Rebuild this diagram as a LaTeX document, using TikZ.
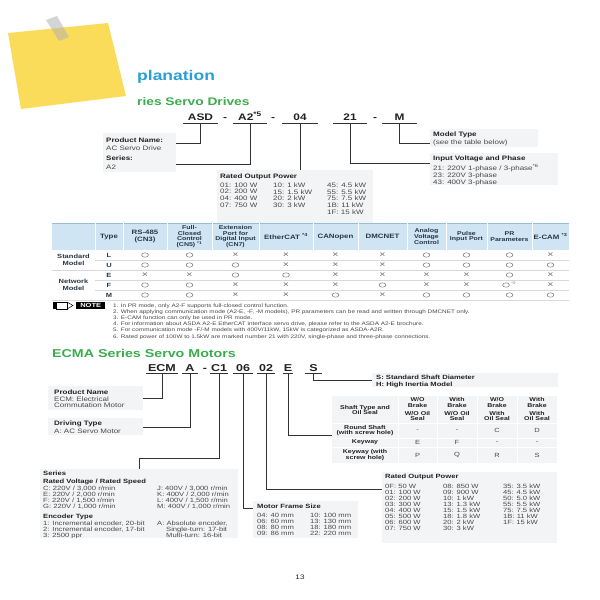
\documentclass[tikz,border=0pt]{standalone}
\usepackage{fontspec}
\setmainfont{Liberation Sans}[FakeStretch=1.25]
\usetikzlibrary{calc,shapes.geometric}
\definecolor{sticky}{RGB}{251,220,90}
\definecolor{headblue}{RGB}{40,160,215}
\definecolor{headgreen}{RGB}{60,172,78}
\definecolor{boxgray}{RGB}{243,244,246}
\definecolor{txtgray}{RGB}{72,72,72}
\definecolor{ttl}{RGB}{35,35,35}
\definecolor{linec}{RGB}{50,50,50}
\definecolor{thead}{RGB}{207,229,244}
\definecolor{theadline}{RGB}{150,190,215}
\definecolor{theadtxt}{RGB}{40,55,70}
\definecolor{symgray}{RGB}{110,110,110}
\definecolor{rulegray}{RGB}{214,218,222}
\newcommand\ttlb[1]{{\color{ttl}\bfseries #1}}
\tikzset{
  bx/.style={fill=boxgray, draw=none, anchor=north west, inner sep=0pt},
  tx/.style={anchor=north west, inner sep=0pt, align=left, text=txtgray, font=\fontsize{6.4}{6.7}\selectfont},
  code/.style={inner sep=0pt, anchor=south, text height=7pt, text depth=2pt, text=ttl, font=\bfseries\fontsize{9.5}{10}\selectfont},
  codeb/.style={code, text height=7.2pt, font=\bfseries\fontsize{10}{10}\selectfont},
  uline/.style={draw=linec, line width=0.7pt},
  conn/.style={draw=linec, line width=0.7pt},
  thd/.style={inner sep=0pt, align=center, text=theadtxt, font=\bfseries\fontsize{5.6}{5.8}\selectfont},
  thdl/.style={thd, font=\bfseries\fontsize{6.3}{6.5}\selectfont},
  typel/.style={inner sep=0pt, text=theadtxt, font=\bfseries\fontsize{6}{6}\selectfont},
  symo/.style={ellipse, draw=symgray, line width=0.45pt, minimum width=6.8pt, minimum height=4.4pt, inner sep=0pt, node contents={}},
  symq/.style={symo, xshift=-3.5pt},
  symx/.style={inner sep=0pt, text=symgray, font=\fontsize{8.5}{8.5}\selectfont, node contents={×}},
  rule/.style={draw=rulegray, line width=0.5pt},
  shd/.style={inner sep=0pt, align=center, text=ttl, font=\bfseries\fontsize{5.6}{5.8}\selectfont},
  sval/.style={inner sep=0pt, text=txtgray, font=\fontsize{6}{6}\selectfont},
}
\begin{document}
\begin{tikzpicture}[x=1pt,y=-1pt]
\useasboundingbox[fill=white] (0,0) rectangle (600,600);

% sticky note
\fill[sticky] (8,33) -- (108,23) -- (126,96) -- (21,109) -- cycle;
\fill[gray!60, opacity=0.55] (46,20) -- (57,16) -- (69,37) -- (59,41) -- cycle;

% headings
\node[anchor=base west, inner sep=0pt, text=headblue, font=\bfseries\fontsize{14}{14}\selectfont] (h1) at (137,80) {planation};
\node[anchor=base west, inner sep=0pt, text=headgreen, font=\bfseries\fontsize{11}{11}\selectfont] (h2) at (137,105) {ries Servo Drives};

% code row 1
\node[code, minimum width=35] (asd) at (200.5,123) {ASD};
\node[code] (d1) at (225,123) {-};
\node[code, minimum width=34] (a2) at (250,123) {A2\textsuperscript{*5}};
\node[code] (d2) at (273,123) {-};
\node[code, minimum width=35] (c04) at (300,123) {04};
\node[code, minimum width=34] (c21) at (350,123) {21};
\node[code] (d3) at (375,123) {-};
\node[code, minimum width=35] (cm) at (399.5,123) {M};
\foreach \n in {asd,a2,c04,c21,cm} \draw[uline] (\n.south west) -- (\n.south east);

% boxes row 1
\node[bx, minimum width=73, minimum height=39] (pbox) at (103,133) {};
\node[tx, font=\fontsize{6.4}{8}\selectfont] (pbt1) at (106,137.6) {\ttlb{Product Name:}\\AC Servo Drive};
\node[tx, font=\fontsize{6.4}{9}\selectfont] (pbt2) at (106,155.6) {\ttlb{Series:}\\A2};

\node[bx, minimum width=156, minimum height=57] (rop1) at (217,170) {};
\node[tx] (rop1t) at (220,173.6) {\ttlb{Rated Output Power}};
\node[tx] (rop1a) at (220,182.6) {01: 100 W\\02: 200 W\\04: 400 W\\07: 750 W};
\node[tx] (rop1b) at (273,182.6) {10: 1 kW\\15: 1.5 kW\\20: 2 kW\\30: 3 kW};
\node[tx] (rop1c) at (327,182.6) {45: 4.5 kW\\55: 5.5 kW\\75: 7.5 kW\\1B: 11 kW\\1F: 15 kW};

\node[bx, minimum width=128, minimum height=32] (ivbox) at (430,153) {};
\node[tx] (ivt) at (433,155.6) {\ttlb{Input Voltage and Phase}};
\node[tx, font=\fontsize{6.4}{7}\selectfont] (ivl) at (433,164.6) {21: 220V 1-phase / 3-phase\textsuperscript{*6}\\23: 220V 3-phase\\43: 400V 3-phase};

\node[bx, minimum width=108, minimum height=18] (mtbox) at (430,129) {};
\node[tx, font=\fontsize{6.4}{8}\selectfont] (mtt) at (433,131.6) {\ttlb{Model Type}\\(see the table below)};

% connectors row 1
\draw[conn] (asd.south) |- ($(pbox.north east)+(0,10)$);
\draw[conn] (a2.south) |- ($(pbox.north east)+(0,31)$);
\draw[conn] (c04.south) -- (c04.south |- rop1.north);
\draw[conn] (c21.south) |- ($(ivbox.north west)+(0,10)$);
\draw[conn] (cm.south) |- ($(mtbox.north west)+(0,14)$);

% table 1
\fill[thead] (52,223) rectangle (569,250);
\draw[theadline, line width=0.6pt] (52,223) -- (569,223);
\foreach \x in {95,123,167,212,259,313,358,407,446,487,532} \draw[white, line width=0.8pt] (\x,223) -- (\x,250);
\node[thdl] (hd1) at (109,236.5) {Type};
\node[thdl] (hd2) at (145,236.5) {RS-485\\(CN3)};
\node[thd] (hd3) at (189.5,236.5) {Full-\\Closed\\Control\\(CN5) \textsuperscript{*1}};
\node[thd] (hd4) at (235.5,236.5) {Extension\\Port for\\Digital Input\\(CN7)};
\node[thdl] (hd5) at (286,236.5) {EtherCAT \textsuperscript{*4}};
\node[thdl] (hd6) at (335.5,236.5) {CANopen};
\node[thdl] (hd7) at (382.5,236.5) {DMCNET};
\node[thd] (hd8) at (426.5,236.5) {Analog\\Voltage\\Control};
\node[thd] (hd9) at (466.5,236.5) {Pulse\\Input Port};
\node[thd] (hd10) at (509.5,236.5) {PR\\Parameters};
\node[thdl] (hd11) at (550.5,236.5) {E-CAM \textsuperscript{*3}};

\foreach \y in {260,280,290} \draw[rule] (95,\y) -- (569,\y);
\foreach \y in {270,300} \draw[rule] (52,\y) -- (569,\y);

\node[thd, font=\bfseries\fontsize{6}{6.6}\selectfont] (gstd) at (73.5,260) {Standard\\Model};
\node[thd, font=\bfseries\fontsize{6}{6.6}\selectfont] (gnet) at (73.5,285) {Network\\Model};

\foreach \ry/\tl/\syms [count=\ri] in {255/L/{o,o,x,x,x,x,o,o,o,x}, 265/U/{o,o,o,x,x,x,o,o,o,o}, 275/E/{x,x,o,o,x,x,x,x,o,x}, 285/F/{o,o,x,x,x,o,x,x,q,x}, 295/M/{o,o,x,x,o,x,o,o,o,o}}{
  \node[typel] (t\ri) at (109,\ry) {\tl};
  \foreach \s [count=\ci] in \syms {
    \pgfmathsetmacro\xx{{145,189.5,235.5,286,335.5,382.5,426.5,466.5,509.5,550.5}[\ci-1]}
    \node[sym\s, name=s\ri-\ci, at={(\xx,\ry)}];
  }
}
\node[inner sep=0pt, text=symgray, font=\fontsize{3.6}{3.6}\selectfont] (s2note) at (513.5,283.3) {*2};

% NOTE
\fill[black] (53,302) rectangle (56,309);
\draw[black, line width=0.5pt] (56,302) rectangle (67,309);
\draw[black, line width=0.5pt] (67,302) -- (73,305.5) -- (67,309);
\node[fill=black, text=white, font=\bfseries\fontsize{6}{6}\selectfont, inner sep=0pt, minimum width=29, minimum height=7, anchor=north west] (notebox) at (76,302) {NOTE};
\node[tx, font=\fontsize{5.1}{6.2}\selectfont] (notes) at (113,303.1) {1. In PR mode, only A2-F supports full-closed control function.\\
2. When applying communication mode (A2-E, -F, -M models), PR parameters can be read and written through DMCNET only.\\
3. E-CAM function can only be used in PR mode.\\
4. For information about ASDA A2-E EtherCAT interface servo drive, please refer to the ASDA A2-E brochure.\\
5. For communication mode -F/-M models with 400V/11kW, 15kW is categorized as ASDA-A2R.\\
6. Rated power of 100W to 1.5kW are marked number 21 with 220V, single-phase and three-phase connections.};

% ECMA heading
\node[anchor=base west, inner sep=0pt, text=headgreen, font=\bfseries\fontsize{11.4}{11.4}\selectfont] (h3) at (52,357) {ECMA Series Servo Motors};

% code row 2
\node[codeb, minimum width=31] (ecm) at (162,373.5) {ECM};
\node[codeb, minimum width=16] (ca) at (190,373.5) {A};
\node[codeb] (d4) at (205,373.5) {-};
\node[codeb, minimum width=18] (cc1) at (219,373.5) {C1};
\node[codeb, minimum width=20] (c06) at (243,373.5) {06};
\node[codeb, minimum width=18] (c02) at (266,373.5) {02};
\node[codeb, minimum width=10] (ce) at (288,373.5) {E};
\node[codeb, minimum width=17] (cs) at (313.5,373.5) {S};
\foreach \n in {ecm,ca,cc1,c06,c02,ce,cs} \draw[uline] (\n.south west) -- (\n.south east);

% boxes row 2
\node[bx, minimum width=95, minimum height=24] (pn2) at (48,386) {};
\node[tx, font=\fontsize{6.4}{6.6}\selectfont] (pn2t) at (54,389.6) {\ttlb{Product Name}\\ECM: Electrical\\Commutation Motor};
\node[bx, minimum width=95, minimum height=17] (dt) at (48,418) {};
\node[tx, font=\fontsize{6.4}{8}\selectfont] (dtt) at (54,420.6) {\ttlb{Driving Type}\\A: AC Servo Motor};

\node[bx, minimum width=198, minimum height=69] (ser) at (40,469) {};
\node[tx, font=\fontsize{6.1}{8}\selectfont] (sert) at (43,470.7) {\ttlb{Series}\\\ttlb{Rated Voltage / Rated Speed}};
\node[tx, font=\fontsize{6.1}{6}\selectfont] (serA) at (43,485.7) {C: 220V / 3,000 r/min\\E: 220V / 2,000 r/min\\F: 220V / 1,500 r/min\\G: 220V / 1,000 r/min};
\node[tx, font=\fontsize{6.1}{6}\selectfont] (serB) at (157,485.7) {J: 400V / 3,000 r/min\\K: 400V / 2,000 r/min\\L: 400V / 1,500 r/min\\M: 400V / 1,000 r/min};
\node[tx, font=\fontsize{6.1}{6}\selectfont] (enct) at (43,513.7) {\ttlb{Encoder Type}};
\node[tx, font=\fontsize{6.1}{6}\selectfont] (encA) at (43,520.7) {1: Incremental encoder, 20-bit\\2: Incremental encoder, 17-bit\\3: 2500 ppr};
\node[tx, font=\fontsize{6.1}{6}\selectfont] (encB) at (157,520.7) {A: Absolute encoder,\\\hspace*{9pt}Single-turn: 17-bit\\\hspace*{9pt}Multi-turn: 16-bit};

\node[bx, minimum width=105, minimum height=37.5] (mfs) at (253,500.5) {};
\node[tx, font=\fontsize{6.1}{6}\selectfont] (mfst) at (257,503.5) {\ttlb{Motor Frame Size}};
\node[tx, font=\fontsize{6.1}{6}\selectfont] (mfsA) at (257,512.7) {04: 40 mm\\06: 60 mm\\08: 80 mm\\09: 86 mm};
\node[tx, font=\fontsize{6.1}{6}\selectfont] (mfsB) at (310,512.7) {10: 100 mm\\13: 130 mm\\18: 180 mm\\22: 220 mm};

\node[bx, minimum width=175, minimum height=71] (rop2) at (382,472) {};
\node[tx, font=\fontsize{6.1}{6}\selectfont] (rop2t) at (385,473.8) {\ttlb{Rated Output Power}};
\node[tx, font=\fontsize{6.1}{6}\selectfont] (rop2a) at (385,483.7) {0F: 50 W\\01: 100 W\\02: 200 W\\03: 300 W\\04: 400 W\\05: 500 W\\06: 600 W\\07: 750 W};
\node[tx, font=\fontsize{6.1}{6}\selectfont] (rop2b) at (443,483.7) {08: 850 W\\09: 900 W\\10: 1 kW\\13: 1.3 kW\\15: 1.5 kW\\18: 1.8 kW\\20: 2 kW\\30: 3 kW};
\node[tx, font=\fontsize{6.1}{6}\selectfont] (rop2c) at (503,483.7) {35: 3.5 kW\\45: 4.5 kW\\50: 5.0 kW\\55: 5.5 kW\\75: 7.5 kW\\1B: 11 kW\\1F: 15 kW};

\node[bx, minimum width=186, minimum height=14] (sbox) at (372,373) {};
\node[tx, text=ttl, font=\bfseries\fontsize{6.1}{7}\selectfont] (sboxt) at (376,374.6) {S: Standard Shaft Diameter\\H: High Inertia Model};

% shaft table
\node[bx, minimum width=225, minimum height=67] (shaft) at (332,396) {};
\foreach \x in {398,437,477,517} \draw[white, line width=0.8pt] (\x,396) -- (\x,463);
\foreach \y in {423,438,447} \draw[white, line width=0.8pt] (332,\y) -- (557,\y);
\node[shd] (sh0) at (365,410) {Shaft Type and\\Oil Seal};
\node[shd] (sh1a) at (417.5,402.7) {W/O\\Brake};
\node[shd] (sh1b) at (417.5,416) {W/O Oil\\Seal};
\node[shd] (sh2a) at (457,402.7) {With\\Brake};
\node[shd] (sh2b) at (457,416) {W/O Oil\\Seal};
\node[shd] (sh3a) at (497,402.7) {W/O\\Brake};
\node[shd] (sh3b) at (497,416) {With\\Oil Seal};
\node[shd] (sh4a) at (537,402.7) {With\\Brake};
\node[shd] (sh4b) at (537,416) {With\\Oil Seal};
\node[shd] (r1) at (365,430.5) {Round Shaft\\(with screw hole)};
\node[shd] (r2) at (365,442.5) {Keyway};
\node[shd] (r3) at (365,455) {Keyway (with\\screw hole)};
\foreach \v/\x [count=\i] in {-/417.5,-/457,C/497,D/537} \node[sval] (v1\i) at (\x,430.5) {\v};
\foreach \v/\x [count=\i] in {E/417.5,F/457,-/497,-/537} \node[sval] (v2\i) at (\x,442.5) {\v};
\foreach \v/\x [count=\i] in {P/417.5,Q/457,R/497,S/537} \node[sval] (v3\i) at (\x,455) {\v};

% connectors row 2
\draw[conn] (ecm.south) |- ($(pn2.north east)+(0,12)$);
\draw[conn] (ca.south) |- ($(dt.north east)+(0,9)$);
\draw[conn] (cc1.south) |- ($(ser.north)+(0,-11)$) -- (ser.north);
\draw[conn] (c06.south) |- ($(mfs.north west)+(0,7.5)$);
\draw[conn] (c02.south) |- ($(rop2.north west)+(0,17)$);
\draw[conn] (ce.south) |- ($(shaft.north west)+(0,39)$);
\draw[conn] (cs.south) |- ($(sbox.north west)+(0,7)$);

% page number
\node[inner sep=0pt, text=ttl, font=\fontsize{6.5}{6.5}\selectfont] (pg) at (300,577) {13};
\end{tikzpicture}
\end{document}
